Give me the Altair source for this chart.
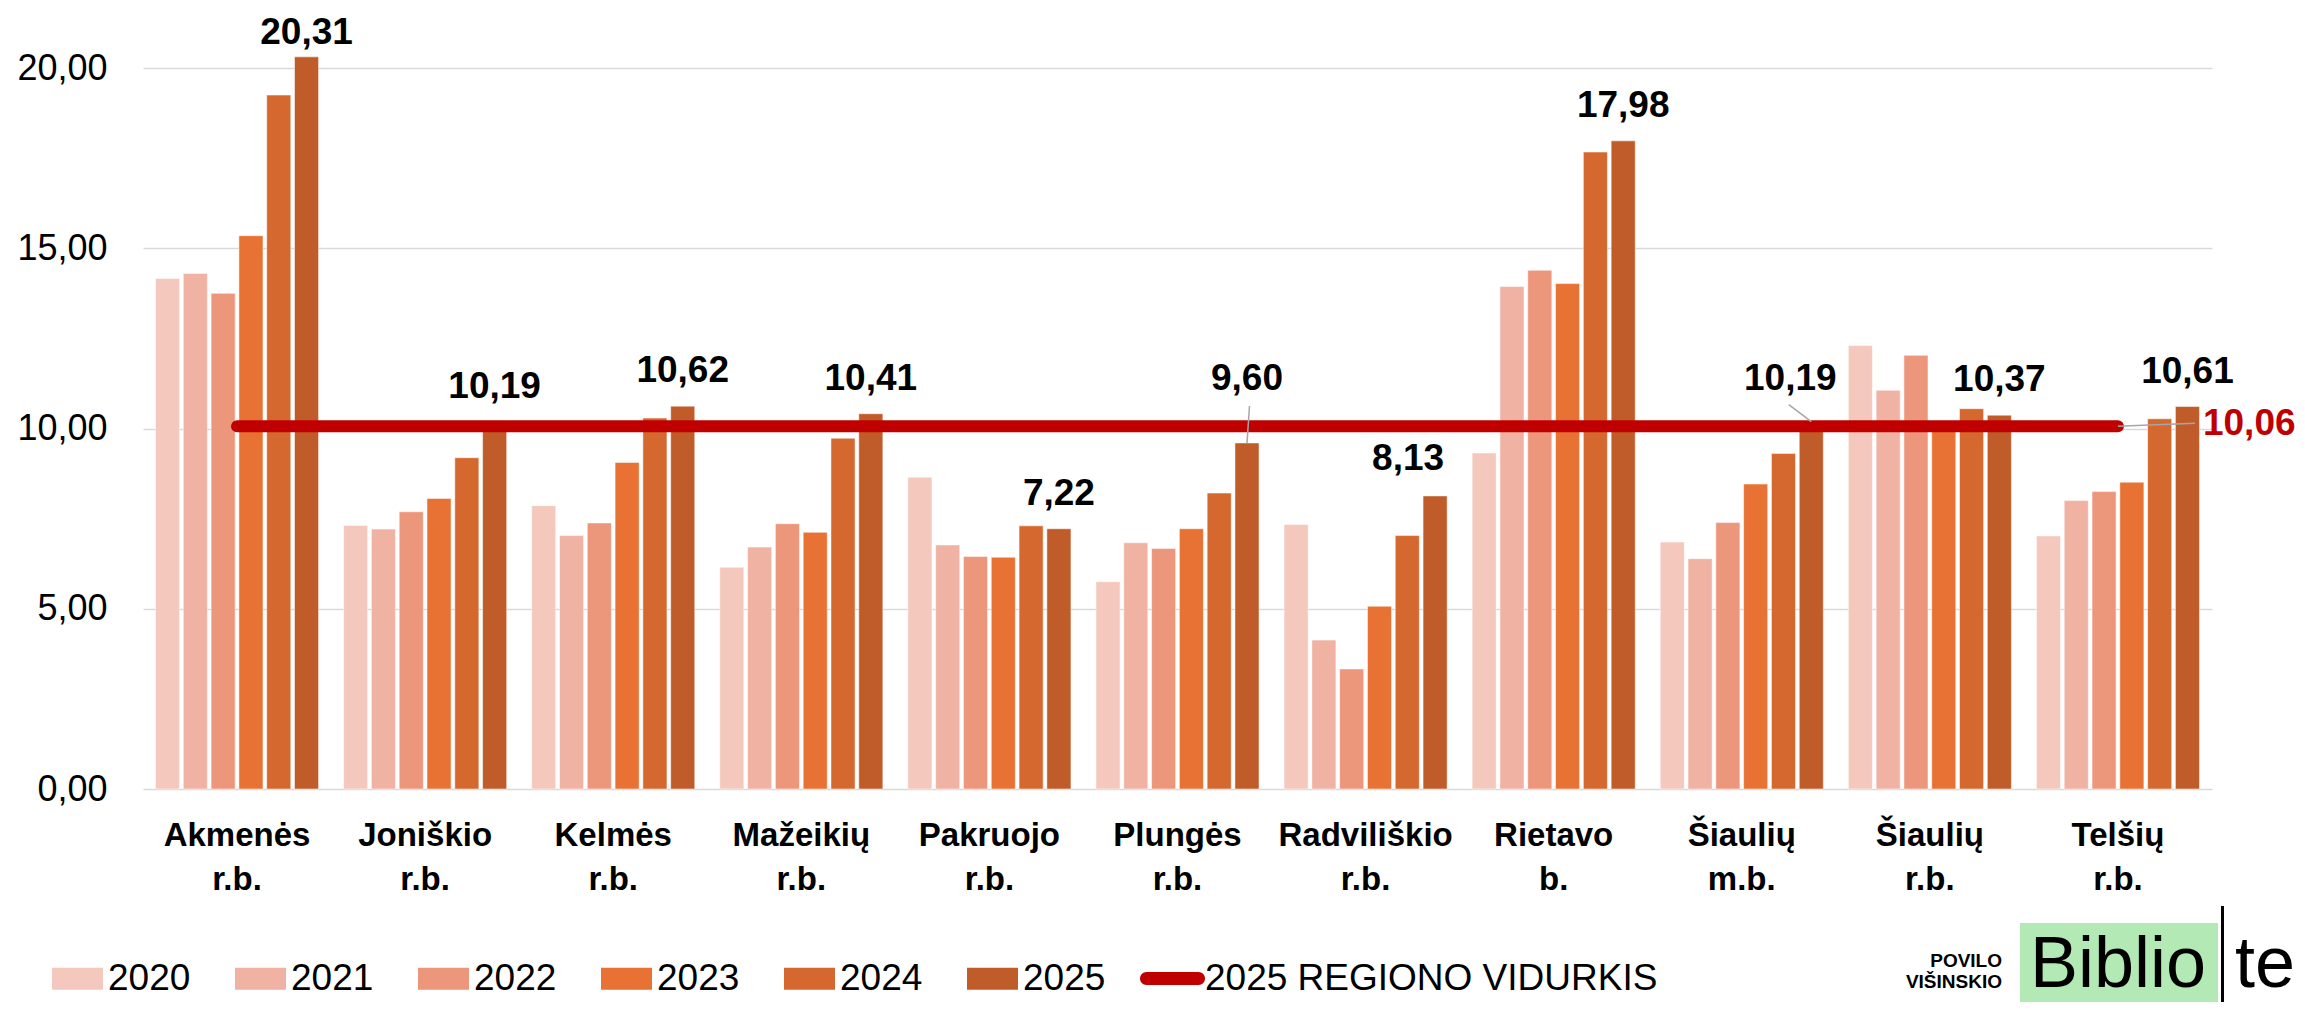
import altair as alt
import pandas as pd

# ---------------- data ----------------
CATEGORIES = ["Akmenės r.b.", "Joniškio r.b.", "Kelmės r.b.", "Mažeikių r.b.", "Pakruojo r.b.",
              "Plungės r.b.", "Radviliškio r.b.", "Rietavo b.", "Šiaulių m.b.", "Šiaulių r.b.", "Telšių r.b."]
YEARS = ["2020", "2021", "2022", "2023", "2024", "2025"]
V2020 = [14.16, 7.31, 7.86, 6.15, 8.65, 5.75, 7.34, 9.32, 6.85, 12.30, 7.02]
V2021 = [14.30, 7.21, 7.03, 6.71, 6.77, 6.83, 4.13, 13.94, 6.39, 11.06, 8.00]
V2022 = [13.75, 7.69, 7.38, 7.36, 6.45, 6.67, 3.33, 14.39, 7.39, 12.03, 8.25]
V2023 = [15.35, 8.06, 9.06, 7.12, 6.43, 7.22, 5.07, 14.02, 8.46, 10.05, 8.51]
V2024 = [19.25, 9.19, 10.29, 9.73, 7.30, 8.21, 7.03, 17.67, 9.31, 10.55, 10.27]
V2025 = [20.31, 10.19, 10.62, 10.41, 7.22, 9.60, 8.13, 17.98, 10.19, 10.37, 10.61]
REGION_AVG_2025 = 10.06
AVG_NAME = "2025 REGIONO VIDURKIS"
Y_TICKS = [0, 5, 10, 15, 20]
LOGO_SMALL = ["POVILO", "VIŠINSKIO"]
LOGO_BIG = ["Biblio", "te"]

# ---------------- style ----------------
FONT = "Liberation Sans"
COLORS = ["#F5C8BD", "#F0B2A3", "#EC967C", "#E87234", "#D4682E", "#C05C29"]
RED = "#C00000"
GRAY = "#A6A6A6"
W, H = 2069, 757
PAD = {"left": 135, "top": 24, "right": 85, "bottom": 213}
LABEL_SIZE = 37
# pixel nudges (dx, dy) for 2025 value labels; default (0, -24)
NUDGE = {
    "Akmenės r.b.": (0, -13),
    "Radviliškio r.b.": (-27, -26),
    "Plungės r.b.": (0, -53),
    "Šiaulių m.b.": (-21, -32),
}
# leader lines: (x2Offset from category centre, y2Offset from bar top)
LEADERS = {
    "Plungės r.b.": (72, -37),
    "Šiaulių m.b.": (47, -17),
}

rows = []
for yr, vals in zip(YEARS, [V2020, V2021, V2022, V2023, V2024, V2025]):
    for c, v in zip(CATEGORIES, vals):
        rows.append({"cat": c, "year": yr, "value": v})
df = pd.DataFrame(rows)
lab_df = df[df["year"] == "2025"].copy()
lab_df["label"] = lab_df["value"].map(lambda v: f"{v:.2f}".replace(".", ","))

avg_df = pd.DataFrame({"cat": [CATEGORIES[0], CATEGORIES[-1]],
                       "value": [REGION_AVG_2025, REGION_AVG_2025],
                       "series": [AVG_NAME, AVG_NAME]})
avg_end = avg_df.iloc[[1]].copy()
avg_end["label"] = f"{REGION_AVG_2025:.2f}".replace(".", ",")

# ---------------- encodings ----------------
x_enc = alt.X("cat:N", sort=CATEGORIES,
              scale=alt.Scale(domain=CATEGORIES, paddingInner=0.133, paddingOuter=0.0665),
              axis=alt.Axis(title=None, labelExpr="split(datum.label, ' ')", labelAngle=0,
                            labelFont=FONT, labelFontSize=33, labelFontWeight="bold",
                            labelColor="black", labelLineHeight=44, labelBaseline="top",
                            labelPadding=30, ticks=False, domain=False, grid=False,
                            labelOverlap=False, labelLimit=0))
xo_enc = alt.XOffset("year:N", sort=YEARS,
                     scale=alt.Scale(domain=YEARS, paddingInner=0.134, paddingOuter=0))
y_enc = alt.Y("value:Q", scale=alt.Scale(domain=[0, 21], nice=False, zero=True),
              axis=alt.Axis(title=None, values=Y_TICKS,
                            labelExpr="replace(format(datum.value, '.2f'), '.', ',')",
                            labelFont=FONT, labelFontSize=36, labelColor="black",
                            labelPadding=36, ticks=False, domain=False,
                            gridColor="#D9D9D9", gridWidth=1.3))

RECT_PATH = "M-1,-0.43 L1,-0.43 L1,0.43 L-1,0.43 Z"
CAPSULE = "M-0.8,-0.2 L0.8,-0.2 A0.2,0.2 0 0 1 0.8,0.2 L-0.8,0.2 A0.2,0.2 0 0 1 -0.8,-0.2 Z"

bars = alt.Chart(df).mark_bar(stroke="white", strokeWidth=1, strokeOpacity=0.5).encode(
    x=x_enc, xOffset=xo_enc, y=y_enc,
    color=alt.Color("year:N", sort=YEARS, scale=alt.Scale(domain=YEARS, range=COLORS),
                    legend=alt.Legend(title=None, orient="none", direction="horizontal",
                                      legendX=-91, legendY=921, symbolType=RECT_PATH,
                                      symbolSize=2601, symbolStrokeWidth=0, symbolOpacity=1,
                                      labelFont=FONT, labelFontSize=37, labelColor="black",
                                      labelOffset=5, columnPadding=44, padding=0, labelLimit=0)),
)

line = alt.Chart(avg_df).mark_line(strokeWidth=12, strokeCap="round").encode(
    x=x_enc, y=y_enc,
    stroke=alt.Stroke("series:N", scale=alt.Scale(domain=[AVG_NAME], range=[RED]),
                      legend=alt.Legend(title=None, orient="none", legendX=997, legendY=914,
                                        symbolType=CAPSULE, symbolSize=4225,
                                        symbolFillColor=RED, symbolStrokeColor=RED,
                                        symbolStrokeWidth=0, labelOffset=0,
                                        labelFont=FONT, labelFontSize=37, labelColor="black",
                                        padding=0, labelLimit=0)),
)

layers = [bars, line]

for cat, (x2o, y2o) in LEADERS.items():
    layers.append(
        alt.Chart(lab_df[lab_df["cat"] == cat]).mark_rule(
            color=GRAY, strokeWidth=1.5, x2Offset=x2o, y2Offset=y2o).encode(
            x=x_enc, xOffset=xo_enc, y=y_enc, x2=alt.X2("cat"), y2=alt.Y2("value"))
    )

for cat in CATEGORIES:
    dx, dy = NUDGE.get(cat, (0, -24))
    layers.append(
        alt.Chart(lab_df[lab_df["cat"] == cat]).mark_text(
            font=FONT, fontSize=LABEL_SIZE, fontWeight="bold", color="black",
            baseline="alphabetic", align="center", dx=dx, dy=dy).encode(
            x=x_enc, xOffset=xo_enc, y=y_enc, text="label:N")
    )

# average value leader + label
layers.append(
    alt.Chart(avg_end).mark_rule(color=GRAY, strokeWidth=1.5, x2Offset=77, y2Offset=-3).encode(
        x=x_enc, y=y_enc, x2=alt.X2("cat"), y2=alt.Y2("value"))
)
layers.append(
    alt.Chart(avg_end).mark_text(font=FONT, fontSize=LABEL_SIZE, fontWeight="bold", color=RED,
                                 baseline="alphabetic", align="left", dx=85, dy=9).encode(
        x=x_enc, y=y_enc, text="label:N")
)

# logo
one = alt.Data(values=[{"k": 1}])
layers.append(alt.Chart(one).mark_rect(color="#B3E9B4").encode(
    x=alt.value(1877), x2=alt.value(2075), y=alt.value(891), y2=alt.value(990)))
layers.append(alt.Chart(one).mark_rect(color="black").encode(
    x=alt.value(2078), x2=alt.value(2081), y=alt.value(874), y2=alt.value(990)))
layers.append(alt.Chart(one).mark_text(text=LOGO_BIG[0], font=FONT, fontSize=72, color="black",
                                       align="left", baseline="alphabetic").encode(
    x=alt.value(1887), y=alt.value(955)))
layers.append(alt.Chart(one).mark_text(text=LOGO_BIG[1], font=FONT, fontSize=72, color="black",
                                       align="left", baseline="alphabetic").encode(
    x=alt.value(2092), y=alt.value(955)))
layers.append(alt.Chart(one).mark_text(text=LOGO_SMALL[0], font=FONT, fontSize=19, fontWeight="bold",
                                       color="black", align="right", baseline="alphabetic").encode(
    x=alt.value(1859), y=alt.value(935)))
layers.append(alt.Chart(one).mark_text(text=LOGO_SMALL[1], font=FONT, fontSize=19, fontWeight="bold",
                                       color="black", align="right", baseline="alphabetic").encode(
    x=alt.value(1859), y=alt.value(956)))

chart = alt.layer(*layers).properties(
    width=W, height=H, padding=PAD,
    autosize=alt.AutoSizeParams(type="none"),
    background="white",
).configure_view(stroke=None)

chart.save("out.html", embed_options={"renderer": "svg", "actions": False})
